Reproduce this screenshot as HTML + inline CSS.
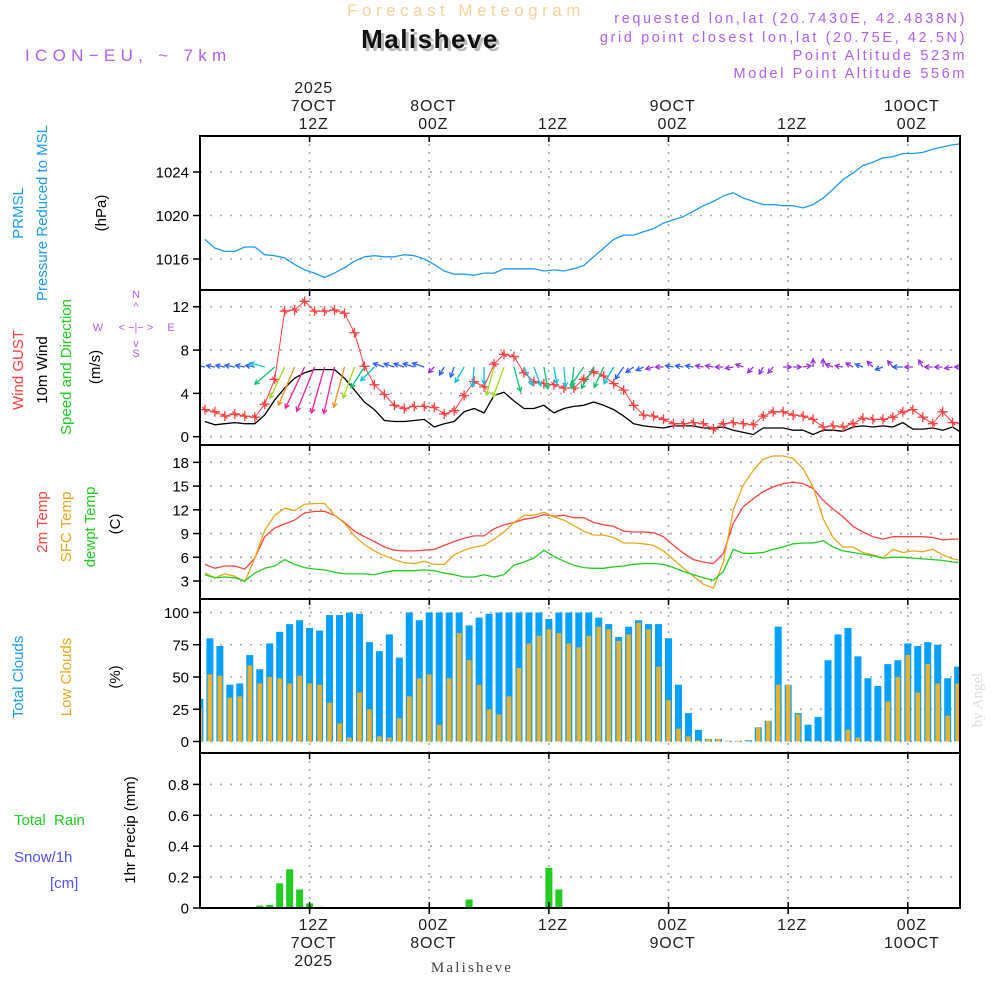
<!DOCTYPE html>
<html><head><meta charset="utf-8"><style>
html,body{margin:0;padding:0;background:#fff;}
svg{display:block;font-family:"Liberation Sans",sans-serif;}
</style></head><body>
<svg id="chart" width="1000" height="1000" viewBox="0 0 1000 1000" xmlns="http://www.w3.org/2000/svg">
<rect x="0" y="0" width="1000" height="1000" fill="#fff"/>
<defs>
<clipPath id="plotclip"><rect x="200" y="136" width="760" height="772"/></clipPath>
</defs>
<g>
<text x="466" y="16" text-anchor="middle" font-size="17" fill="#f5d39a" letter-spacing="4.5">Forecast Meteogram</text>
<text x="433" y="51" text-anchor="middle" font-size="26" font-weight="bold" fill="#bbb" letter-spacing="1.5">Malisheve</text>
<text x="430" y="48" text-anchor="middle" font-size="26" font-weight="bold" fill="#111" letter-spacing="1.5">Malisheve</text>
<text x="25" y="61" font-size="17" fill="#b060f0" letter-spacing="5.3">ICON−EU, ~ 7km</text>
<g font-size="14.5" fill="#b060f0" text-anchor="end" letter-spacing="2.6">
<text x="967" y="23">requested lon,lat (20.7430E, 42.4838N)</text>
<text x="967" y="42">grid point closest lon,lat (20.75E, 42.5N)</text>
<text x="967" y="60">Point Altitude 523m</text>
<text x="967" y="78">Model Point Altitude 556m</text>
</g>
</g>
<g font-size="15">
<text transform="translate(23,213) rotate(-90)" text-anchor="middle" fill="#1e9bf0">PRMSL</text>
<text transform="translate(47,213) rotate(-90)" text-anchor="middle" fill="#1e9bf0">Pressure Reduced to MSL</text>
<text transform="translate(106,213) rotate(-90)" text-anchor="middle" fill="#000">(hPa)</text>
<text transform="translate(23,370) rotate(-90)" text-anchor="middle" fill="#ff4040">Wind GUST</text>
<text transform="translate(47,370) rotate(-90)" text-anchor="middle" fill="#000">10m Wind</text>
<text transform="translate(71,367) rotate(-90)" text-anchor="middle" fill="#22cc22">Speed and Direction</text>
<text transform="translate(100,367) rotate(-90)" text-anchor="middle" fill="#000">(m/s)</text>
<g font-size="11" fill="#b060f0" text-anchor="middle">
<text x="136" y="298">N</text><text x="136" y="310">^</text><text x="136" y="331">&lt; −|− &gt;</text>
<text x="98" y="331">W</text><text x="171" y="331">E</text><text x="136" y="347">v</text><text x="136" y="357">S</text>
</g>
<text transform="translate(47,522) rotate(-90)" text-anchor="middle" fill="#ff4444">2m Temp</text>
<text transform="translate(71,527) rotate(-90)" text-anchor="middle" fill="#e8a820">SFC Temp</text>
<text transform="translate(95,527) rotate(-90)" text-anchor="middle" fill="#22cc22">dewpt Temp</text>
<text transform="translate(120,524) rotate(-90)" text-anchor="middle" fill="#000">(C)</text>
<text transform="translate(23,677) rotate(-90)" text-anchor="middle" fill="#1e9bf0">Total Clouds</text>
<text transform="translate(71,677) rotate(-90)" text-anchor="middle" fill="#e8a820">Low Clouds</text>
<text transform="translate(120,677) rotate(-90)" text-anchor="middle" fill="#000">(%)</text>
<text x="14" y="825" fill="#22cc22" xml:space="preserve">Total  Rain</text>
<text x="14" y="862" fill="#5050ff">Snow/1h</text>
<text x="50" y="888" fill="#5050ff">[cm]</text>
<text transform="translate(135,830) rotate(-90)" text-anchor="middle" fill="#000">1hr Precip (mm)</text>
</g>
<text transform="translate(982,700) rotate(-90)" text-anchor="middle" font-family="Liberation Serif,serif" font-size="15" fill="#ddd">by Angel</text>
<text x="472" y="972" text-anchor="middle" font-family="Liberation Serif,serif" font-size="15" fill="#444" letter-spacing="2.2">Malisheve</text>
<g id="grid"></g>
<g id="marks" clip-path="url(#plotclip)"></g>
<g id="axes"></g>
</svg>
<script>
// ---- data (hourly, k=0..76) ----
const pressure = [1017.8,1017.0,1016.7,1016.7,1017.1,1017.1,1016.4,1016.3,1016.1,1015.5,1015.0,1014.7,1014.3,1014.7,1015.2,1015.8,1016.2,1016.3,1016.2,1016.2,1016.4,1016.3,1016.0,1015.5,1014.9,1014.6,1014.6,1014.5,1014.7,1014.7,1015.1,1015.1,1015.1,1015.1,1014.9,1015.0,1014.9,1015.1,1015.4,1016.2,1017.0,1017.8,1018.2,1018.2,1018.5,1018.8,1019.3,1019.6,1019.9,1020.4,1020.9,1021.3,1021.8,1022.1,1021.6,1021.3,1021.0,1021.0,1020.9,1020.9,1020.7,1021.0,1021.6,1022.4,1023.3,1023.9,1024.6,1024.9,1025.3,1025.4,1025.7,1025.7,1025.8,1026.1,1026.3,1026.5,1026.6];
const gust = [2.5,2.3,1.9,2.1,1.9,1.8,3.0,5.3,11.6,11.7,12.5,11.6,11.6,11.7,11.4,9.6,6.5,4.8,3.9,2.9,2.6,2.8,2.8,2.7,2.1,2.4,3.8,5.1,4.6,6.7,7.6,7.4,5.9,5.1,4.9,4.8,4.5,4.5,5.3,6.0,5.6,4.9,4.3,2.9,2.0,1.9,1.6,1.2,1.2,1.3,1.2,0.7,1.2,1.3,1.2,1.1,1.9,2.3,2.3,2.0,1.9,1.6,0.9,1.0,0.9,1.2,1.7,1.6,1.6,1.8,2.3,2.5,1.8,1.2,2.3,1.3,1.2];
const wind10m = [1.4,1.1,1.2,1.3,1.2,1.2,2.0,3.4,4.5,5.4,5.9,6.2,6.2,6.2,5.4,4.3,3.2,2.5,1.5,1.4,1.4,1.5,1.6,0.9,1.2,1.4,2.3,2.6,2.2,3.8,4.1,3.3,2.6,2.6,2.9,2.2,2.6,2.8,2.9,3.2,2.9,2.5,1.9,1.2,1.0,0.9,0.8,1.0,1.0,1.0,0.8,0.8,0.9,0.6,0.4,0.2,0.8,0.8,0.8,0.6,0.6,0.2,0.6,0.6,0.5,0.9,1.0,0.9,1.0,0.9,1.3,0.7,0.7,0.8,0.6,0.9,0.3];
const windDir = [280,280,280,280,280,280,285,229,205,203,205,202,196,193,195,200,213,225,288,288,288,288,288,225,210,200,210,185,180,195,200,165,155,160,170,170,175,185,215,210,205,210,215,235,245,255,270,280,280,280,280,280,270,260,290,225,210,220,90,90,80,0,0,290,280,300,290,315,250,320,270,270,330,270,270,260,270];
const temp2m = [5.1,4.6,4.9,4.9,4.5,5.9,8.6,9.7,10.2,10.7,11.6,11.8,11.8,11.3,10.4,9.3,8.6,8.0,7.3,6.9,6.8,6.8,6.9,7.0,7.5,8.0,8.4,8.7,8.7,9.6,10.1,10.4,10.8,11.0,11.4,11.2,11.3,11.0,11.0,10.4,10.1,9.9,9.3,9.2,9.2,9.1,8.6,7.5,6.5,5.7,5.4,5.2,6.5,10.3,12.4,13.4,14.3,14.9,15.3,15.5,15.3,14.7,13.2,12.1,11.1,9.9,9.2,8.6,8.3,8.6,8.6,8.6,8.6,8.5,8.2,8.3,8.3];
const sfcTemp = [4.0,3.4,3.9,3.6,2.9,5.9,9.4,11.3,12.2,11.9,12.7,12.8,12.8,11.3,10.3,8.7,7.6,6.8,6.2,5.7,5.3,5.2,5.5,5.1,5.1,6.3,6.9,7.3,7.5,8.3,9.2,10.4,11.3,11.3,11.7,11.1,10.7,10.0,9.3,8.8,8.8,8.5,7.8,7.8,7.7,7.5,6.8,5.7,4.6,3.6,2.6,2.1,5.4,12.0,15.1,17.0,18.4,18.8,18.8,18.5,17.2,14.9,10.9,8.5,7.3,7.3,6.6,6.3,5.9,7.0,6.6,6.8,6.7,7.0,6.3,5.8,5.6];
const dewpt = [3.8,3.4,3.5,3.4,3.0,4.0,4.6,4.9,5.7,5.1,4.7,4.5,4.4,4.1,3.9,3.9,3.9,3.8,4.1,4.3,4.3,4.3,4.4,4.3,4.0,3.8,3.5,3.5,3.8,3.5,3.8,5.0,5.4,5.9,6.9,6.1,5.5,5.0,4.7,4.6,4.6,4.8,4.9,5.1,5.2,5.2,5.1,4.7,4.2,3.8,3.4,3.1,4.2,7.0,6.5,6.5,6.6,7.0,7.3,7.7,7.8,7.8,8.1,7.3,6.8,6.6,6.4,6.2,5.9,6.0,6.0,5.9,5.8,5.7,5.6,5.4,5.3];
const totalClouds = [33,80,74,44,45,67,56,76,85,91,94,88,86,98,98,100,99,77,70,83,65,100,94,100,100,100,100,90,96,99,100,100,100,100,100,95,100,100,100,100,96,91,81,89,94,91,91,80,44,22,9,2,2,0.5,0.5,1,11,16,89,44,22,13,19,63,83,88,66,49,43,60,63,76,74,77,75,49,58];
const lowClouds = [26,52,51,34,35,59,45,50,49,45,51,45,44,30,14,3,38,25,4,3,18,35,49,52,13,49,84,63,44,25,21,35,57,76,82,87,84,76,73,82,89,87,78,83,92,87,58,32,10,4,1,2,2,0.5,0.5,0.5,11,16,44,44,21,0.5,0.5,0.5,0.5,9,3,0.5,0.5,31,50,67,38,60,45,20,45];
const precip = [0,0,0,0,0,0,0.015,0.02,0.16,0.25,0.12,0.03,0.008,0,0,0,0,0,0,0,0,0,0,0,0,0,0,0.055,0,0,0,0,0,0,0,0.26,0.12,0,0,0,0,0,0,0,0,0,0,0,0,0,0,0,0,0,0,0,0,0,0,0,0,0,0,0,0,0,0,0,0,0,0,0,0,0,0,0,0];
const pressureTicks = [1016,1020,1024];
const windTicks = [0,4,8,12];
const tempTicks = [3,6,9,12,15,18];
const cloudTicks = [0,25,50,75,100];
const precipTicks = [0,0.2,0.4,0.6,0.8];
const timeTicks = [0,12,24,36,48,60];
const topLabels = [["2025","7OCT","12Z"],["","8OCT","00Z"],["","","12Z"],["","9OCT","00Z"],["","","12Z"],["","10OCT","00Z"]];
const bottomLabels = [["12Z","7OCT","2025"],["00Z","8OCT",""],["12Z","",""],["00Z","9OCT",""],["12Z","",""],["00Z","10OCT",""]];

// ---- scales ----
const X0 = 200, X1 = 960;
const xT = t => 309.6 + 9.97 * t;
const barT = k => k - 11;
const lineT = k => k - 10.5;
const yP = v => 172 + (1024 - v) * 10.875;
const yW = v => 436.7 - v * 10.83;
const yTm = v => 581 - (v - 3) * 7.91;
const yC = v => 741.5 - v * 1.29;
const yR = v => 908 - v * 154.5;
const panels = [[136,290],[290,445],[445,599],[599,753],[753,908]];

const NS = "http://www.w3.org/2000/svg";
const grid = document.getElementById('grid');
const marks = document.getElementById('marks');
const axes = document.getElementById('axes');
function mk(tag, attrs, parent){
  const e = document.createElementNS(NS, tag);
  for (const k in attrs) e.setAttribute(k, attrs[k]);
  parent.appendChild(e); return e;
}

panels.forEach(([a,b]) => {
  timeTicks.forEach(t => {
    const l = mk('line', {x1:xT(t), x2:xT(t), y1:a, y2:b, stroke:'#aaa', 'stroke-width':1.6, 'stroke-dasharray':'2 6'}, grid);
    
    
    const tk = mk('line', {x1:xT(t), x2:xT(t), y1:a, y2:a+6, stroke:'#000', 'stroke-width':1.5}, axes);
    
    
  });
});
function yAxis(ticks, ys, fmt, name){
  ticks.forEach(v => {
    const y = ys(v);
    const g = mk('line', {x1:X0, x2:X1, y1:y, y2:y, stroke:'#aaa', 'stroke-width':1.6, 'stroke-dasharray':'2 8'}, grid);
    
    
    const t = mk('line', {x1:193, x2:X0, y1:y, y2:y, stroke:'#000', 'stroke-width':1.5}, axes);
    
    
    const tx = mk('text', {x:189, y:y+5.5, 'text-anchor':'end', 'font-size':15, fill:'#000'}, axes);
    
    
    tx.textContent = fmt(v);
  });
}
yAxis(pressureTicks, yP, v => String(v), 'pressure');
yAxis(windTicks, yW, v => String(v), 'wind');
yAxis(tempTicks, yTm, v => String(v), 'temp');
yAxis(cloudTicks, yC, v => String(v), 'cloud');
yAxis(precipTicks, yR, v => v === 0 ? '0' : v.toFixed(1), 'precip');

timeTicks.forEach((t, i) => {
  topLabels[i].forEach((s, j) => {
    if (!s) return;
    const e = mk('text', {x:xT(t)+4, y:93+j*18, 'text-anchor':'middle', 'font-size':16, fill:'#222', 'letter-spacing':'0.8'}, axes);
    
    
    e.textContent = s;
  });
  bottomLabels[i].forEach((s, j) => {
    if (!s) return;
    const e = mk('text', {x:xT(t)+4, y:930+j*18, 'text-anchor':'middle', 'font-size':16, fill:'#222', 'letter-spacing':'0.8'}, axes);
    
    
    e.textContent = s;
  });
});

function line(arr, ys, color, name, w){
  const pts = arr.map((v,k) => xT(lineT(k)).toFixed(1) + ',' + ys(v).toFixed(1)).join(' ');
  const p = mk('polyline', {points:pts, fill:'none', stroke:color, 'stroke-width':w||1.3, 'stroke-linejoin':'round'}, marks);
  
  
}
line(pressure, yP, '#1e9bf0', 'pressure-line');
totalClouds.forEach((v,k) => {
  const x = xT(barT(k));
  const r = mk('rect', {x:x-3.5, y:yC(v), width:7, height:yC(0)-yC(v), fill:'#03a0fc'}, marks);
  
  
});
lowClouds.forEach((v,k) => {
  const x = xT(barT(k));
  const r = mk('rect', {x:x-2.3, y:yC(v), width:4.6, height:yC(0)-yC(v), fill:'#e8b030'}, marks);
  
  
});
precip.forEach((v,k) => {
  if (v <= 0) return;
  const x = xT(barT(k));
  const r = mk('rect', {x:x-3.5, y:yR(v), width:7, height:yR(0)-yR(v), fill:'#22cc22'}, marks);
  
  
});
line(temp2m, yTm, '#ff4444', 'temp-2m-line');
line(sfcTemp, yTm, '#e8a820', 'sfc-temp-line');
line(dewpt, yTm, '#22cc22', 'dewpoint-line');
line(wind10m, yW, '#000', 'wind-10m-line');
line(gust, yW, '#ff4040', 'gust-line', 1);
gust.forEach((v,k) => {
  const x = xT(lineT(k)), y = yW(v);
  const p = mk('path', {d:`M${x-5},${y}H${x+5}M${x},${y-5}V${y+5}M${x-2.5},${y-2.5}L${x+2.5},${y+2.5}`, stroke:'#ff4040', 'stroke-width':1.3, fill:'none'}, marks);
  
  
});
function windColor(s){
  if (s < 1.0) return '#9a30e0';
  if (s < 2.0) return '#2a60ff';
  if (s < 2.8) return '#10c0d8';
  if (s < 3.8) return '#10c070';
  if (s < 4.8) return '#a0d820';
  if (s < 5.8) return '#f09020';
  return '#f0209a';
}
windDir.forEach((d,k) => {
  const s = wind10m[k];
  const x = xT(lineT(k)), y = 367;
  const len = Math.max(8, 7.7 * s);
  const rad = d * Math.PI / 180;
  const dx = Math.sin(rad), dy = -Math.cos(rad);
  const x2 = x + dx*len, y2 = y + dy*len;
  const h = 5, a = 0.5;
  const bx = -dx, by = -dy;
  const h1x = x2 + h*(bx*Math.cos(a) - by*Math.sin(a)), h1y = y2 + h*(bx*Math.sin(a) + by*Math.cos(a));
  const h2x = x2 + h*(bx*Math.cos(-a) - by*Math.sin(-a)), h2y = y2 + h*(bx*Math.sin(-a) + by*Math.cos(-a));
  const p = mk('path', {d:`M${x},${y}L${x2},${y2}M${h1x},${h1y}L${x2},${y2}L${h2x},${h2y}`, stroke:windColor(s), 'stroke-width':1.3, fill:'none'}, marks);
  
  
});

panels.forEach(([a,b]) => {
  const r = mk('rect', {x:X0, y:a, width:X1-X0, height:b-a, fill:'none', stroke:'#000', 'stroke-width':2}, axes);
  
  
});
timeTicks.forEach(t => {
  const tk = mk('line', {x1:xT(t), x2:xT(t), y1:902, y2:914, stroke:'#000', 'stroke-width':1.5}, axes);
  
  
});
</script>
</body></html>
